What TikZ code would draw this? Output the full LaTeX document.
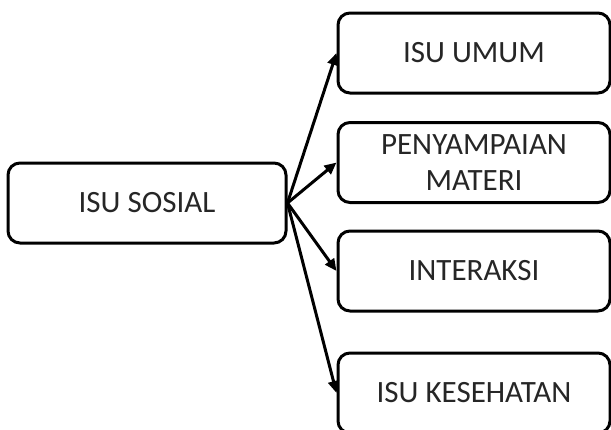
\documentclass[tikz,border=0pt]{standalone}
\usepackage{fontspec}
\setmainfont{Carlito}
\usetikzlibrary{arrows.meta}
\begin{document}
\begin{tikzpicture}[x=0.75pt,y=-0.75pt,
  box/.style={draw=black, line width=2.25pt, rounded corners=9pt, fill=white,
    minimum height=60pt, inner sep=0pt, align=center,
    font=\fontsize{23.25}{27}\selectfont, text=black!85},
  leftbox/.style={box, minimum width=208.5pt},
  rightbox/.style={box, minimum width=204pt},
  conn/.style={line width=2.25pt, -{Triangle[length=9pt,width=8pt]}}]
\clip (0,0) rectangle (611,429);
\useasboundingbox (0,0) rectangle (611,429);
\node[leftbox] (sos) at (147,203) {ISU SOSIAL};
\node[rightbox] (umum) at (474,53) {ISU UMUM};
\node[rightbox] (mat) at (474,162.5) {PENYAMPAIAN\\MATERI};
\node[rightbox] (int) at (474,271) {INTERAKSI};
\node[rightbox] (kes) at (474,393) {ISU KESEHATAN};
\draw[conn] (sos.east) -- (umum.west);
\draw[conn] (sos.east) -- (mat.west);
\draw[conn] (sos.east) -- (int.west);
\draw[conn] (sos.east) -- (kes.west);
\end{tikzpicture}
\end{document}
